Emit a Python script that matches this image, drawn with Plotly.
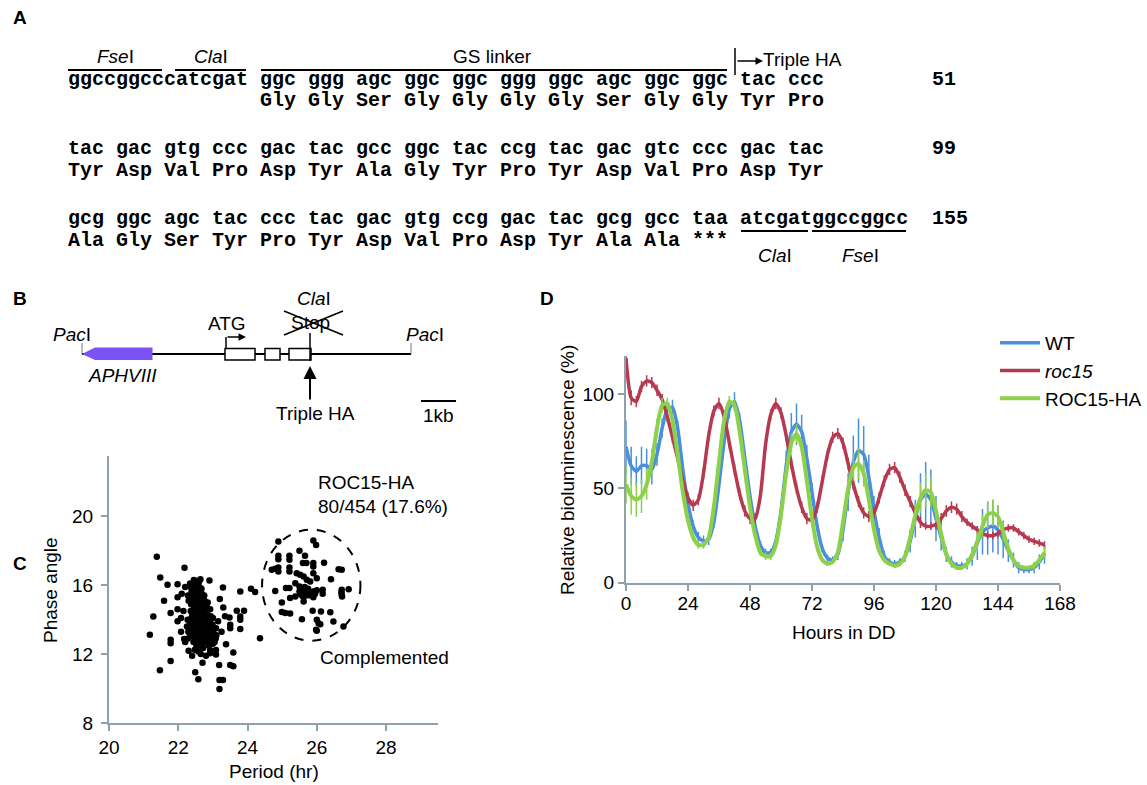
import plotly.graph_objects as go

W, H = 1147, 785
SANS = "Liberation Sans, Arial, sans-serif"
MONO = "Liberation Mono, Courier New, monospace"
AXC = "#8fa1ad"
FS = 19

# ---------------- Panel A: sequence text ----------------
seq_dna = [
    "ggccggcccatcgat ggc ggg agc ggc ggc ggg ggc agc ggc ggc tac ccc",
    "tac gac gtg ccc gac tac gcc ggc tac ccg tac gac gtc ccc gac tac",
    "gcg ggc agc tac ccc tac gac gtg ccg gac tac gcg gcc taa atcgatggccggcc",
]
seq_aa = [
    "                Gly Gly Ser Gly Gly Gly Gly Ser Gly Gly Tyr Pro",
    "Tyr Asp Val Pro Asp Tyr Ala Gly Tyr Pro Tyr Asp Val Pro Asp Tyr",
    "Ala Gly Ser Tyr Pro Tyr Asp Val Pro Asp Tyr Ala Ala ***",
]
seq_numbers = ["51", "99", "155"]

# ---------------- Panel C: period vs phase ----------------
period_hr = [
    # dense main cluster
    22.36, 22.37, 22.35, 22.38, 22.36, 22.37, 22.35, 22.38, 22.36,
    22.44, 22.45, 22.43, 22.44, 22.46, 22.44, 22.43, 22.45, 22.44, 22.46, 22.43, 22.44, 22.45,
    22.52, 22.53, 22.51, 22.52, 22.54, 22.52, 22.51, 22.53, 22.52, 22.50, 22.53, 22.52, 22.51, 22.52, 22.53,
    22.60, 22.61, 22.59, 22.60, 22.62, 22.60, 22.59, 22.61, 22.60, 22.62, 22.60, 22.59, 22.61, 22.60,
    22.68, 22.69, 22.67, 22.68, 22.70, 22.68, 22.67, 22.69, 22.68, 22.70, 22.68, 22.67,
    22.76, 22.77, 22.75, 22.76, 22.78, 22.76, 22.75, 22.77, 22.76, 22.75,
    22.84, 22.85, 22.83, 22.84, 22.86, 22.84, 22.83, 22.85,
    22.92, 22.93, 22.91, 22.92, 22.94, 22.92,
    23.00, 23.01, 22.99, 23.00,
    22.28, 22.29, 22.27, 22.28,
    23.08, 23.09,
    22.20, 22.25, 23.15, 22.30, 22.48, 22.58, 22.72, 22.88, 23.05, 22.34, 22.64,
    22.40, 22.48, 22.56, 22.64, 22.72, 22.80, 22.88, 22.56, 22.64, 22.48,
    # scattered points around main cluster
    21.38, 22.18, 21.48, 21.69, 21.98, 22.90, 23.29, 23.79, 24.10, 24.22,
    21.59, 21.98, 21.28, 21.78, 21.98, 22.08, 21.18, 21.78, 21.78, 21.78,
    21.47, 22.49, 22.58, 22.70, 23.18, 23.50, 23.59, 23.19, 23.29, 23.19,
    22.92, 22.92, 23.09, 23.09, 23.38, 23.59, 23.50, 23.50, 23.48, 23.79,
    23.79, 23.79, 23.69, 23.90, 24.36, 22.17, 22.08, 21.98, 22.10, 22.20,
    23.20, 23.30, 23.10, 23.25, 22.30, 22.40, 22.65, 22.80, 23.00, 22.15, 23.35,
    # complemented cluster
    24.89, 25.90, 25.98, 24.89, 24.89, 25.21, 25.21, 25.50, 24.70, 24.80,
    24.89, 24.89, 25.21, 25.21, 25.66, 25.60, 25.70, 25.90, 25.90, 26.21,
    25.42, 25.52, 25.62, 25.71, 25.81, 25.90, 26.00, 26.41, 26.63, 26.72,
    25.38, 25.11, 25.21, 24.80, 25.50, 25.50,
    25.60, 25.65, 25.70, 25.60, 25.75, 25.55, 25.80, 25.82, 25.90, 25.95,
    25.92, 26.00, 25.70, 25.78, 25.88, 25.65,
    25.38, 25.23, 26.17, 26.17, 26.72, 26.72, 26.92, 24.99, 25.62, 25.09,
    24.99, 25.23, 25.57, 25.88, 26.12, 26.39, 26.00, 26.05, 26.48, 26.77,
    25.98, 26.10, 26.00, 26.71, 26.73,
]
phase_angle = [
    13.1, 13.4, 13.8, 14.1, 14.5, 14.9, 15.2, 15.6, 15.9,
    12.7, 13.0, 13.3, 13.6, 13.9, 14.2, 14.5, 14.8, 15.1, 15.4, 15.7, 16.0, 16.3,
    12.4, 12.7, 13.0, 13.25, 13.5, 13.8, 14.05, 14.3, 14.6, 14.9, 15.15, 15.4, 15.7, 16.0, 16.25,
    12.5, 12.8, 13.1, 13.35, 13.6, 13.9, 14.2, 14.45, 14.7, 15.0, 15.3, 15.6, 15.9, 16.2,
    12.6, 12.9, 13.2, 13.5, 13.75, 14.0, 14.3, 14.6, 14.9, 15.2, 15.5, 15.8,
    12.7, 13.0, 13.3, 13.6, 13.9, 14.2, 14.5, 14.8, 15.1, 15.4,
    12.8, 13.1, 13.4, 13.7, 14.0, 14.3, 14.7, 15.0,
    12.9, 13.2, 13.5, 13.85, 14.2, 14.6,
    13.0, 13.3, 13.7, 14.1,
    12.9, 13.3, 14.0, 15.4,
    12.9, 13.5,
    12.7, 13.6, 13.9, 15.1, 12.25, 12.15, 12.35, 12.5, 12.7, 16.1, 16.35,
    14.35, 13.15, 14.75, 13.75, 14.45, 13.55, 13.95, 15.55, 15.05, 15.95,
    17.65, 17.01, 16.45, 16.02, 16.05, 16.27, 15.87, 15.63, 15.80, 15.60,
    15.09, 15.30, 14.18, 14.38, 14.60, 14.09, 13.12, 12.83, 12.63, 11.60,
    11.06, 10.95, 10.54, 11.50, 11.37, 11.37, 11.30, 10.50, 10.50, 9.98,
    12.24, 12.05, 12.24, 11.97, 12.57, 12.09, 13.70, 13.50, 14.12, 14.18,
    13.99, 13.45, 14.51, 14.51, 12.92, 12.87, 13.30, 13.90, 15.50, 15.90,
    15.20, 14.70, 13.10, 13.30, 12.20, 11.90, 12.00, 11.90, 12.60, 14.50, 14.20,
    18.54, 18.60, 18.33, 17.71, 17.51, 17.71, 17.48, 18.00, 16.90, 16.95,
    17.03, 16.80, 17.03, 16.79, 17.71, 17.29, 17.29, 17.29, 17.09, 17.30,
    16.69, 16.60, 16.50, 16.31, 16.21, 16.69, 16.41, 16.35, 16.93, 16.90,
    16.12, 15.83, 15.83, 15.67, 15.93, 15.64,
    15.75, 15.55, 15.40, 15.35, 15.80, 15.45, 15.60, 15.40, 15.30, 15.50,
    15.65, 15.70, 15.65, 15.50, 15.48, 15.90,
    15.34, 15.25, 15.73, 15.50, 15.73, 15.44, 15.77, 14.99, 15.05, 14.38,
    14.45, 14.35, 14.03, 14.52, 14.47, 14.43, 13.99, 13.79, 13.89, 13.60,
    13.41, 13.73, 13.36, 15.59, 15.34,
]
period_ticks = [20, 22, 24, 26, 28]
phase_ticks = [8, 12, 16, 20]

# ---------------- Panel D: bioluminescence ----------------
hours = list(range(0, 163, 2))
wt = [72, 62, 59, 62, 62, 60, 68, 82, 92, 93, 82, 60, 42, 30, 24, 22, 23, 32, 52, 75,
      92, 96, 86, 66, 46, 30, 20, 16, 16, 22, 38, 62, 80, 84, 80, 66, 48, 30, 18, 13,
      12, 15, 28, 48, 64, 70, 68, 56, 38, 24, 14, 11, 10, 11, 14, 22, 34, 44, 47, 44,
      34, 24, 15, 11, 9, 9, 10, 14, 21, 27, 29, 30, 28, 23, 17, 12, 8, 7, 7, 8,
      11, 15]
wt_err = [14, 10, 8, 10, 9, 8, 6, 5, 5, 4, 4, 4, 3, 3, 3, 3, 3, 3, 4, 4,
          5, 5, 4, 4, 3, 3, 2, 2, 2, 3, 5, 8, 10, 11, 9, 7, 5, 3, 2, 2,
          2, 3, 6, 10, 14, 17, 15, 12, 8, 5, 3, 2, 2, 2, 3, 6, 10, 14, 17, 16,
          12, 7, 4, 3, 2, 2, 3, 5, 9, 12, 14, 14, 13, 10, 6, 4, 3, 2, 2, 3,
          4, 5]
roc15 = [119, 98, 96, 104, 107, 106, 102, 97, 88, 77, 66, 54, 45, 41, 44, 58, 78, 91, 95, 88,
         74, 60, 47, 38, 34, 34, 46, 73, 89, 95, 90, 78, 63, 50, 40, 34, 33, 40, 54, 68,
         77, 79, 74, 63, 52, 43, 37, 35, 37, 45, 54, 60, 61, 56, 49, 43, 37, 32, 30, 30,
         31, 34, 38, 40, 39, 35, 32, 30, 28, 26, 25, 25, 26, 28, 29, 29, 27, 25, 23, 22,
         21, 20]
roc15_err = [4, 4, 3, 3, 3, 3, 3, 3, 3, 3, 3, 3, 3, 3, 3, 3, 3, 3, 3, 3,
             3, 3, 3, 3, 3, 3, 3, 3, 3, 3, 3, 3, 3, 3, 3, 3, 3, 3, 3, 3,
             3, 3, 3, 3, 3, 3, 3, 3, 3, 3, 3, 3, 3, 3, 3, 3, 3, 3, 2, 2,
             3, 3, 3, 3, 3, 3, 2, 2, 2, 2, 2, 2, 2, 2, 2, 2, 2, 2, 2, 2,
             2, 2]
roc15_ha = [52, 46, 44, 46, 52, 64, 82, 94, 95, 86, 68, 48, 33, 24, 20, 20, 24, 40, 64, 86,
            96, 94, 80, 60, 40, 25, 16, 14, 14, 20, 36, 58, 74, 79, 72, 54, 34, 19, 12, 10,
            11, 16, 32, 50, 61, 63, 58, 44, 28, 17, 12, 10, 9, 10, 14, 24, 36, 45, 49, 48,
            38, 26, 15, 10, 8, 8, 10, 15, 22, 30, 36, 37, 35, 27, 18, 12, 9, 8, 8, 9,
            12, 16]
roc15_ha_err = [10, 10, 9, 9, 8, 7, 5, 4, 3, 3, 3, 3, 2, 2, 2, 2, 2, 3, 3, 3,
                3, 3, 3, 3, 2, 2, 2, 2, 2, 2, 3, 4, 5, 5, 4, 3, 2, 2, 1, 1,
                1, 2, 3, 5, 7, 8, 7, 5, 3, 2, 1, 1, 1, 1, 2, 4, 6, 8, 9, 8,
                6, 4, 2, 1, 1, 1, 2, 3, 5, 6, 7, 7, 6, 5, 3, 2, 1, 1, 1, 2,
                2, 3]
hour_ticks = [0, 24, 48, 72, 96, 120, 144, 168]
biolum_ticks = [0, 50, 100]

C_WT, C_ROC, C_HA = "#4a8fdd", "#b5394f", "#8dd04a"


def PX(x):
    return x / W


def PY(y):
    return 1 - y / H


fig = go.Figure()

# Panel C scatter
fig.add_trace(go.Scatter(x=period_hr, y=phase_angle, mode="markers",
                         marker=dict(color="black", size=6.5), showlegend=False,
                         xaxis="x", yaxis="y", cliponaxis=False))

# Panel D lines
for name, yv, ev, col, lw in [("WT", wt, wt_err, C_WT, 3.5),
                              ("<i>roc15</i>", roc15, roc15_err, C_ROC, 3.5),
                              ("ROC15-HA", roc15_ha, roc15_ha_err, C_HA, 4)]:
    fig.add_trace(go.Scatter(x=hours, y=yv, mode="lines", name=name,
                             line=dict(color=col, width=lw, shape="spline", smoothing=0.6),
                             error_y=dict(type="data", array=ev, thickness=1.5, width=0, color=col),
                             xaxis="x2", yaxis="y2"))

ax_common = dict(showgrid=False, zeroline=False, showline=True, linecolor=AXC, linewidth=2,
                 ticks="outside", ticklen=6, tickwidth=2, tickcolor=AXC, automargin=False,
                 tickfont=dict(family=SANS, size=FS, color="black"))

fig.update_layout(
    template="none",
    width=W, height=H, margin=dict(l=0, r=0, t=0, b=0, pad=0), autosize=False,
    paper_bgcolor="white", plot_bgcolor="white",
    font=dict(family=SANS, size=FS, color="black"),
    xaxis=dict(domain=[PX(109), PX(438)], range=[20, 29.5], tickvals=period_ticks,
               anchor="y", **ax_common),
    yaxis=dict(domain=[PY(723), PY(456)], range=[8, 23.5], tickvals=phase_ticks,
               anchor="x", ticklabelstandoff=4, **ax_common),
    xaxis2=dict(domain=[PX(626), PX(1060)], range=[0, 168], tickvals=hour_ticks,
                anchor="y2", ticklabelstandoff=-4, **ax_common),
    yaxis2=dict(domain=[PY(582.7), PY(356.3)], range=[0, 120], tickvals=biolum_ticks,
                anchor="x2", **ax_common),
    legend=dict(x=PX(995), y=PY(324), xanchor="left", yanchor="top",
                font=dict(family=SANS, size=FS, color="black"),
                bgcolor="rgba(0,0,0,0)", itemwidth=40, tracegroupgap=0),
    showlegend=True,
)

ann = []
shapes = []


def text(x, y, t, size=FS, xanchor="center", family=SANS, angle=0):
    ann.append(dict(x=PX(x), y=PY(y), xref="paper", yref="paper", text=t, showarrow=False,
                    xanchor=xanchor, yanchor="middle", textangle=angle,
                    font=dict(family=family, size=size, color="black")))


def line(x0, y0, x1, y1, w=2, color="black", dash=None):
    d = dict(type="line", xref="paper", yref="paper", x0=PX(x0), y0=PY(y0), x1=PX(x1), y1=PY(y1),
             line=dict(color=color, width=w))
    if dash:
        d["line"]["dash"] = dash
    shapes.append(d)


def arrow(xh, yh, xt, yt, w=1.5, size=1.0):
    ann.append(dict(x=PX(xh), y=PY(yh), xref="paper", yref="paper", text="", showarrow=True,
                    ax=xt - xh, ay=yt - yh, arrowhead=2, arrowsize=size, arrowwidth=w,
                    arrowcolor="black"))


# panel letters
for lab, x, y in [("A", 11, 18), ("B", 11, 298), ("C", 11, 563), ("D", 538, 298)]:
    text(x, y, "<b>%s</b>" % lab, size=FS, xanchor="left")

# Panel A sequence rows
row_y = [(80, 101), (149, 171), (219, 241)]
for (yd, ya), dna, aa, num in zip(row_y, seq_dna, seq_aa, seq_numbers):
    text(66, yd, "<b>%s</b>" % dna.replace(" ", "\u00a0"), size=20, xanchor="left", family=MONO)
    text(66, ya, "<b>%s</b>" % aa.replace(" ", "\u00a0"), size=20, xanchor="left", family=MONO)
    text(930, yd, "<b>%s</b>" % num, size=20, xanchor="left", family=MONO)

text(115, 57, "<i>Fse</i>I")
text(211, 57, "<i>Cla</i>I")
text(492, 57, "GS linker")
line(68, 70, 162, 70)
line(175, 70, 246, 70)
line(261, 70, 727, 70)
line(735, 48, 735, 75, w=1.5)
arrow(763, 61, 736, 61, w=1.5, size=1)
text(761, 60, "Triple HA", xanchor="left")
line(741, 231, 808, 231)
line(812, 231, 906, 231)
text(775, 256, "<i>Cla</i>I")
text(860, 256, "<i>Fse</i>I")

# Panel B gene diagram
line(82, 354, 411, 354, w=2)
line(82, 343, 82, 354, w=1, color="#777777")
line(411, 343, 411, 354, w=1, color="#777777")
shapes.append(dict(type="path", xref="paper", yref="paper",
                   path="M %f,%f L %f,%f L %f,%f L %f,%f L %f,%f Z" % (
                       PX(82), PY(354), PX(95), PY(347.5), PX(152.5), PY(347.5),
                       PX(152.5), PY(360), PX(95), PY(360)),
                   fillcolor="#7d52f4", line=dict(width=0)))
for x0, x1 in [(225, 255), (265, 280), (289, 311)]:
    shapes.append(dict(type="rect", xref="paper", yref="paper", x0=PX(x0), x1=PX(x1),
                       y0=PY(360), y1=PY(348.5), fillcolor="white",
                       line=dict(color="black", width=1.5)))
line(310, 333, 310, 361, w=1.5)
line(226, 349, 226, 337, w=1.5)
arrow(246, 337, 226, 337, w=1.5, size=1)
text(72, 334, "<i>Pac</i>I")
text(425, 334, "<i>Pac</i>I")
text(122, 375, "<i>APHVIII</i>")
text(227, 323, "ATG")
text(314, 298, "<i>Cla</i>I")
text(310, 322, "Stop")
line(284, 311, 343, 335, w=1.5)
line(284, 335, 343, 311, w=1.5)
arrow(310, 366, 310, 401, w=2, size=1.3)
text(315, 413, "Triple HA")
line(421, 401, 456, 401, w=2)
text(438, 415, "1kb")

# Panel C extras
shapes.append(dict(type="circle", xref="x", yref="y", x0=24.42, x1=27.26, y0=12.78, y1=19.22,
                   line=dict(color="black", width=2, dash="dash")))
text(316, 482, "ROC15-HA", xanchor="left")
text(316, 506, "80/454 (17.6%)", xanchor="left")
text(318, 657, "Complemented", xanchor="left")
text(50, 590, "Phase angle", angle=-90)
text(274, 771, "Period (hr)")

# Panel D titles
text(567, 470, "Relative bioluminescence (%)", angle=-90)
text(843, 632, "Hours in DD")

fig.update_layout(annotations=ann, shapes=shapes)
fig.write_html("out.html", config={"displayModeBar": False},
               post_script="document.body.style.margin='0';")
